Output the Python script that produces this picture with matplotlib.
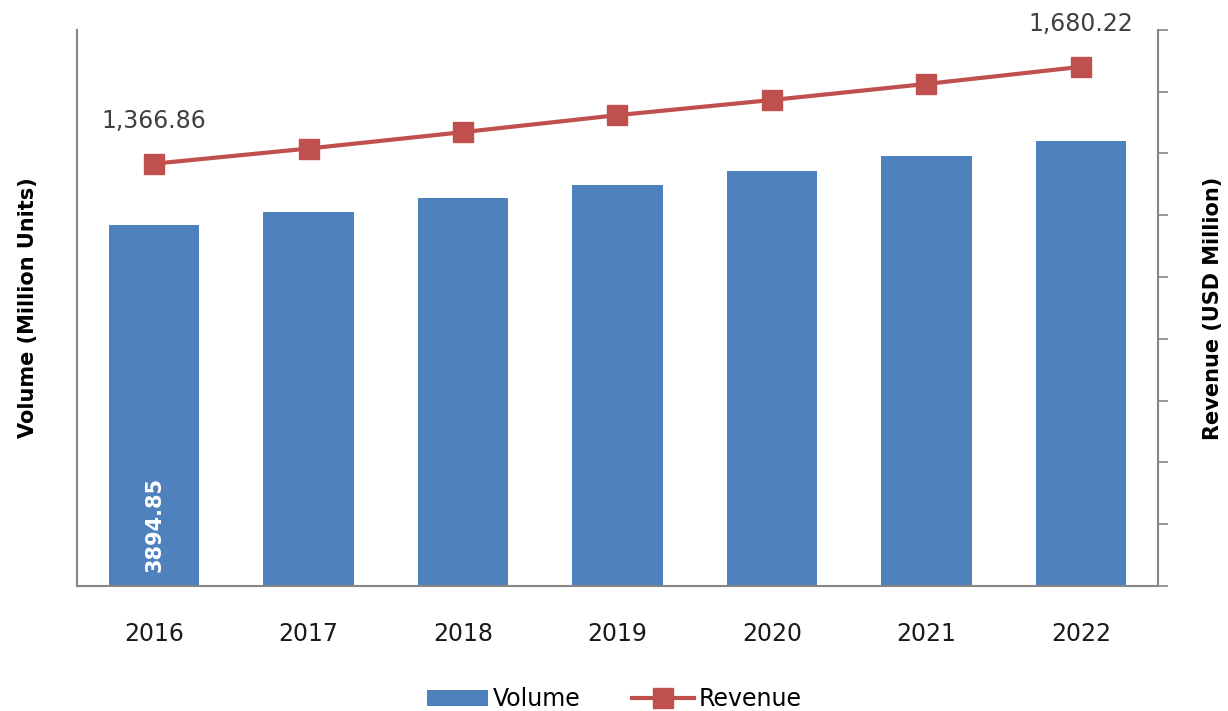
import numpy as np
import matplotlib.pyplot as plt

# Data
years = ['2016', '2017', '2018', '2019', '2020', '2021', '2022']
volume = [3894.85, 4036, 4188, 4329, 4481, 4644, 4796]
revenue = [1366.86, 1416, 1469, 1524, 1573, 1625, 1680.22]

bar_color = '#4F81BD'
line_color = '#C0504D'
axis_color = '#868686'

fig = plt.figure(figsize=(12.28, 7.11), dpi=100)
ax = fig.add_axes([0.0627, 0.1758, 0.8803, 0.7822])
ax2 = ax.twinx()

x = np.arange(len(years))
bars = ax.bar(x, volume, width=0.585, color=bar_color, label='Volume', zorder=2)
line, = ax2.plot(x, revenue, color=line_color, linewidth=3, marker='s',
                 markersize=15, label='Revenue', zorder=3)

ax.set_xlim(-0.5, 6.5)
ax.set_ylim(0, 6000)
ax2.set_ylim(0, 1800)

# left axis: spine only
ax.set_yticks([])
ax.set_xticks(x)
ax.set_xticklabels(years, fontsize=17, color='#1a1a1a')
ax.tick_params(axis='x', length=0, pad=26)
ax2.set_yticks(np.arange(0, 1801, 200))
ax2.set_yticklabels([])
ax2.tick_params(axis='y', length=7, color=axis_color, width=1.2)

for a in (ax, ax2):
    a.spines['top'].set_visible(False)
    for s in ('left', 'right', 'bottom'):
        a.spines[s].set_color(axis_color)
        a.spines[s].set_linewidth(1.5)
ax.spines['right'].set_visible(False)
ax2.spines['left'].set_visible(False)
ax2.spines['bottom'].set_visible(False)

ax.set_ylabel('Volume (Million Units)', fontsize=15, fontweight='bold', labelpad=28)
ax2.set_ylabel('Revenue (USD Million)', fontsize=15, fontweight='bold',
               rotation=90, labelpad=22)

# value labels
ax.text(x[0], 150, f'{volume[0]:.2f}', rotation=90, color='white', fontsize=15,
        fontweight='bold', ha='center', va='bottom')
ax2.text(x[0], revenue[0] + 100, f'{revenue[0]:,.2f}', fontsize=17, color='#404040',
         ha='center', va='bottom')
ax2.text(x[-1], revenue[-1] + 100, f'{revenue[-1]:,.2f}', fontsize=17, color='#404040',
         ha='center', va='bottom')

fig.legend([bars, line], ['Volume', 'Revenue'], loc='lower center', ncol=2,
           frameon=False, fontsize=17, bbox_to_anchor=(0.5, -0.03),
           handlelength=2.6, handletextpad=0.2, columnspacing=2.2)

fig.savefig('out.png', dpi=100)
